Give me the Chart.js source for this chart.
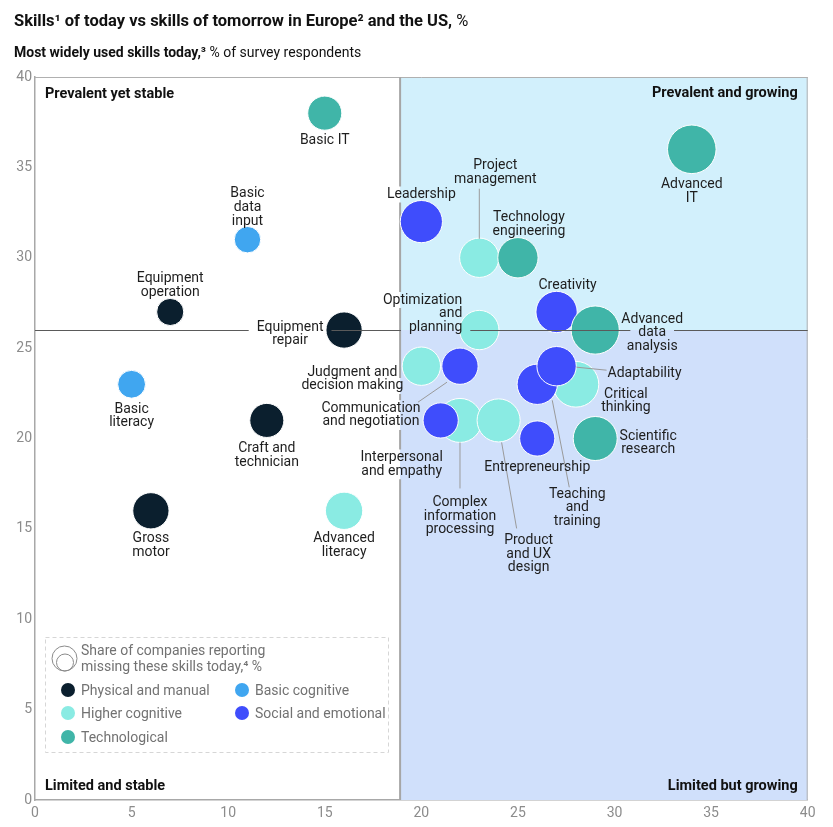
<!DOCTYPE html>
<html>
<head>
<meta charset="utf-8">
<script src="https://cdn.jsdelivr.net/npm/chart.js@4.4.1/dist/chart.umd.min.js"></script>
<style>
html, body { margin: 0; padding: 0; background: #fff; }
</style>
</head>
<body>
<canvas id="skillsChart" width="833" height="827"></canvas>
<script>
// ---- data ----
var categories = ['Physical and manual', 'Basic cognitive', 'Higher cognitive', 'Social and emotional', 'Technological'];
var categoryColors = ['#0b1f2e', '#40a6f0', '#8aebe3', '#3f4dfc', '#40b5a8'];

var skills = [
    'Basic IT', 'Basic\ndata\ninput', 'Equipment\noperation', 'Equipment\nrepair', 'Basic\nliteracy',
    'Craft and\ntechnician', 'Gross\nmotor', 'Advanced\nliteracy', 'Advanced\nIT', 'Leadership',
    'Project\nmanagement', 'Technology\nengineering', 'Optimization\nand\nplanning', 'Creativity', 'Advanced\ndata\nanalysis',
    'Judgment and\ndecision making', 'Communication\nand negotiation', 'Teaching\nand\ntraining', 'Adaptability', 'Critical\nthinking',
    'Interpersonal\nand empathy', 'Complex\ninformation\nprocessing', 'Product\nand UX\ndesign', 'Entrepreneurship', 'Scientific\nresearch'
];
var skillCategory = [4, 1, 0, 0, 1, 0, 0, 2, 4, 3, 2, 4, 2, 3, 4, 2, 3, 3, 3, 2, 3, 2, 2, 3, 4];
// x: expected growth, y: most widely used today (% of respondents)
var growth = [15, 11, 7, 16, 5, 12, 6, 16, 34, 20, 23, 25, 23, 27, 29, 20, 22, 26, 27, 28, 21, 22, 24, 26, 29];
var usage = [38, 31, 27, 26, 23, 21, 16, 16, 36, 32, 30, 30, 26, 27, 26, 24, 24, 23, 24, 23, 21, 21, 21, 20, 20];
// share of companies reporting missing these skills today, %
var missingShare = [15, 9, 9.5, 17, 10, 15, 17, 18, 30.5, 23, 20, 21, 20, 22, 30, 19, 17, 21, 20, 27, 16, 25, 24, 16, 25];

var xTicks = [0, 5, 10, 15, 20, 25, 30, 35, 40];
var yTicks = [0, 5, 10, 15, 20, 25, 30, 35, 40];
var growthSplit = 18.9;
var usageSplit = 26;

// ---- layout / style ----
var FONT = 'Roboto, "Liberation Sans", sans-serif';
var labelFont = '14px ' + FONT;
var lineH = 13.7;
var drawOrder = [1, 1, 5, 3, 2];

// label offset from bubble centre (px), first line centre
var labelLayout = [
    { dx: 0, dy: 27 },
    { dx: 0, dy: -46 },
    { dx: 0, dy: -33 },
    { dx: -54, dy: -3 },
    { dx: 0, dy: 25 },
    { dx: 0, dy: 28 },
    { dx: 0, dy: 28 },
    { dx: 0, dy: 28 },
    { dx: 0, dy: 35 },
    { dx: 0, dy: -27 },
    { dx: 16, dy: -92, leader: [0, -19, 0, -69] },
    { dx: 11, dy: -40 },
    { dx: -17, dy: -30, align: 'right' },
    { dx: 11, dy: -26 },
    { dx: 57, dy: -11 },
    { dx: -69, dy: 6 },
    { dx: -89, dy: 42, leader: [-13, 16, -42, 36] },
    { dx: 40, dy: 110, leader: [15, 16, 32, 103] },
    { dx: 88, dy: 7, leader: [20, 1, 50, 4] },
    { dx: 50, dy: 10 },
    { dx: -39, dy: 37 },
    { dx: 0, dy: 82, leader: [0, 22, 0, 68] },
    { dx: 30, dy: 120, leader: [3, 22, 18, 108] },
    { dx: 0, dy: 28.5 },
    { dx: 53, dy: -2.5 }
];

function radius(share) {
    return 4.4 * Math.sqrt(share);
}

var datasets = categories.map(function (cat, c) {
    var pts = [];
    for (var i = 0; i < skills.length; i++) {
        if (skillCategory[i] === c) pts.push({ x: growth[i], y: usage[i], r: radius(missingShare[i]) });
    }
    return {
        label: cat,
        data: pts,
        backgroundColor: categoryColors[c],
        borderColor: '#ffffff',
        borderWidth: 1,
        hoverBorderWidth: 1,
        order: drawOrder[c],
        clip: false
    };
});

function labelBoxes(chart) {
    var ctx = chart.ctx;
    var xs = chart.scales.x, ys = chart.scales.y;
    ctx.save();
    ctx.font = labelFont;
    var out = skills.map(function (name, i) {
        var lay = labelLayout[i];
        var bx = xs.getPixelForValue(growth[i]);
        var by = ys.getPixelForValue(usage[i]);
        var ax = bx + lay.dx, ay = by + lay.dy;
        var lines = name.split('\n').map(function (t, k) {
            var w = ctx.measureText(t).width;
            var x0 = lay.align === 'right' ? ax - w : ax - w / 2;
            return { text: t, x0: x0, x1: x0 + w, y: ay + k * lineH };
        });
        return { bx: bx, by: by, ax: ax, lay: lay, lines: lines };
    });
    ctx.restore();
    return out;
}

// draws a straight line but leaves gaps where labels sit
function gappedLine(ctx, horizontal, fixed, from, to, gaps) {
    gaps.sort(function (a, b) { return a[0] - b[0]; });
    var pos = from;
    ctx.beginPath();
    gaps.forEach(function (g) {
        if (g[0] > pos) {
            if (horizontal) { ctx.moveTo(pos, fixed); ctx.lineTo(Math.min(g[0], to), fixed); }
            else { ctx.moveTo(fixed, pos); ctx.lineTo(fixed, Math.min(g[0], to)); }
        }
        pos = Math.max(pos, g[1]);
    });
    if (pos < to) {
        if (horizontal) { ctx.moveTo(pos, fixed); ctx.lineTo(to, fixed); }
        else { ctx.moveTo(fixed, pos); ctx.lineTo(fixed, to); }
    }
    ctx.stroke();
}

var quadrantPlugin = {
    id: 'quadrants',
    beforeDatasetsDraw: function (chart) {
        var ctx = chart.ctx, a = chart.chartArea;
        var sx = chart.scales.x.getPixelForValue(growthSplit);
        var sy = chart.scales.y.getPixelForValue(usageSplit);
        ctx.save();
        ctx.fillStyle = '#d2f0fc';
        ctx.fillRect(sx, a.top, a.right - sx, sy - a.top);
        ctx.fillStyle = '#d0e0fb';
        ctx.fillRect(sx, sy, a.right - sx, a.bottom - sy);
        // frame top / right
        ctx.strokeStyle = '#b0b0b0';
        ctx.lineWidth = 1;
        ctx.beginPath();
        ctx.moveTo(a.left, a.top + 0.5); ctx.lineTo(a.right, a.top + 0.5);
        ctx.moveTo(a.right - 0.5, a.top); ctx.lineTo(a.right - 0.5, a.bottom);
        ctx.stroke();
        // vertical divider
        var gaps = [];
        labelBoxes(chart).forEach(function (lb) {
            lb.lines.forEach(function (l) {
                if (l.x0 - 2 < sx && l.x1 + 2 > sx) gaps.push([l.y - 8, l.y + 8]);
            });
        });
        ctx.strokeStyle = '#a6a6a6';
        ctx.lineWidth = 2;
        gappedLine(ctx, false, sx, a.top, a.bottom, gaps);
        ctx.restore();
    },
    afterDatasetsDraw: function (chart) {
        var ctx = chart.ctx, a = chart.chartArea;
        var sy = Math.round(chart.scales.y.getPixelForValue(usageSplit)) + 0.5;
        var boxes = labelBoxes(chart);
        ctx.save();
        // horizontal divider on top of bubbles
        var gaps = [];
        boxes.forEach(function (lb) {
            lb.lines.forEach(function (l) {
                if (Math.abs(l.y - sy) < 8) gaps.push([l.x0 - 8, l.x1 + 8]);
            });
        });
        ctx.strokeStyle = '#5a5a5a';
        ctx.lineWidth = 1;
        gappedLine(ctx, true, sy, a.left, a.right, gaps);

        // leader lines
        ctx.strokeStyle = '#9a9a9a';
        boxes.forEach(function (lb) {
            var ld = lb.lay.leader;
            if (!ld) return;
            ctx.beginPath();
            ctx.moveTo(lb.bx + ld[0], lb.by + ld[1]);
            ctx.lineTo(lb.bx + ld[2], lb.by + ld[3]);
            ctx.stroke();
        });

        // skill labels
        ctx.font = labelFont;
        ctx.fillStyle = '#1e1e1e';
        ctx.textBaseline = 'middle';
        boxes.forEach(function (lb) {
            lb.lines.forEach(function (l) {
                ctx.textAlign = lb.lay.align === 'right' ? 'right' : 'center';
                ctx.fillText(l.text, lb.ax, l.y);
            });
        });

        // quadrant names
        ctx.font = 'bold 14.5px ' + FONT;
        ctx.fillStyle = '#111';
        ctx.textAlign = 'left';
        ctx.fillText('Prevalent yet stable', a.left + 10, 94);
        ctx.fillText('Limited and stable', a.left + 10, 786);
        ctx.textAlign = 'right';
        ctx.fillText('Prevalent and growing', a.right - 10, 93);
        ctx.fillText('Limited but growing', a.right - 10, 786);
        ctx.restore();
    },
    afterDraw: function (chart) {
        var ctx = chart.ctx;
        ctx.save();
        ctx.textBaseline = 'alphabetic';
        ctx.textAlign = 'left';
        ctx.fillStyle = '#111';
        ctx.font = 'bold 16.5px ' + FONT;
        var t1 = 'Skills\u00b9 of today vs skills of tomorrow in Europe\u00b2 and the US,';
        ctx.fillText(t1, 14, 26);
        var w1 = ctx.measureText(t1).width;
        ctx.font = '16.5px ' + FONT;
        ctx.fillText(' %', 14 + w1, 26);

        ctx.font = 'bold 14px ' + FONT;
        var t2 = 'Most widely used skills today,\u00b3';
        ctx.fillText(t2, 14, 57);
        var w2 = ctx.measureText(t2).width;
        ctx.font = '14px ' + FONT;
        ctx.fillText(' % of survey respondents', 14 + w2, 57);

        // legend box
        ctx.strokeStyle = '#d6d6d6';
        ctx.lineWidth = 1;
        ctx.setLineDash([4, 3]);
        ctx.strokeRect(45.5, 637.5, 343, 115);
        ctx.setLineDash([]);

        ctx.strokeStyle = '#8a8a8a';
        ctx.beginPath(); ctx.arc(64.5, 658.5, 12.5, 0, Math.PI * 2); ctx.stroke();
        ctx.beginPath(); ctx.arc(65, 662.5, 8.5, 0, Math.PI * 2); ctx.stroke();

        ctx.font = '14px ' + FONT;
        ctx.fillStyle = '#727272';
        ctx.textBaseline = 'middle';
        ctx.fillText('Share of companies reporting', 81, 651);
        ctx.fillText('missing these skills today,\u2074 %', 81, 667);

        var spots = [[68, 690], [242, 690], [68, 713], [242, 713], [68, 737]];
        categories.forEach(function (cat, c) {
            var p = spots[c];
            ctx.fillStyle = categoryColors[c];
            ctx.beginPath(); ctx.arc(p[0], p[1], 7, 0, Math.PI * 2); ctx.fill();
            ctx.fillStyle = '#727272';
            ctx.fillText(cat, p[0] + 13, p[1] + 1);
        });
        ctx.restore();
    }
};

var tickStyle = { color: '#8c8c8c', font: { family: FONT, size: 14 } };

var myChart = new Chart(document.getElementById('skillsChart'), {
    type: 'bubble',
    data: { datasets: datasets },
    options: {
        responsive: false,
        animation: false,
        devicePixelRatio: 1,
        events: [],
        layout: { padding: { top: 77, right: 25, left: 0, bottom: 0 } },
        plugins: { legend: { display: false }, tooltip: { enabled: false } },
        scales: {
            x: {
                type: 'linear', min: 0, max: 40,
                afterBuildTicks: function (s) { s.ticks = xTicks.map(function (v) { return { value: v }; }); },
                afterFit: function (s) { s.height = 27; },
                ticks: Object.assign({ padding: 5, maxRotation: 0 }, tickStyle),
                grid: { display: false, drawTicks: false },
                border: { color: '#a8a8a8', width: 1.5 }
            },
            y: {
                type: 'linear', min: 0, max: 40,
                afterBuildTicks: function (s) { s.ticks = yTicks.map(function (v) { return { value: v }; }); },
                afterFit: function (s) { s.width = 35; },
                ticks: Object.assign({ padding: 3 }, tickStyle),
                grid: { display: false, drawTicks: false },
                border: { color: '#a8a8a8', width: 1.5 }
            }
        }
    },
    plugins: [quadrantPlugin]
});
</script>
</body>
</html>
